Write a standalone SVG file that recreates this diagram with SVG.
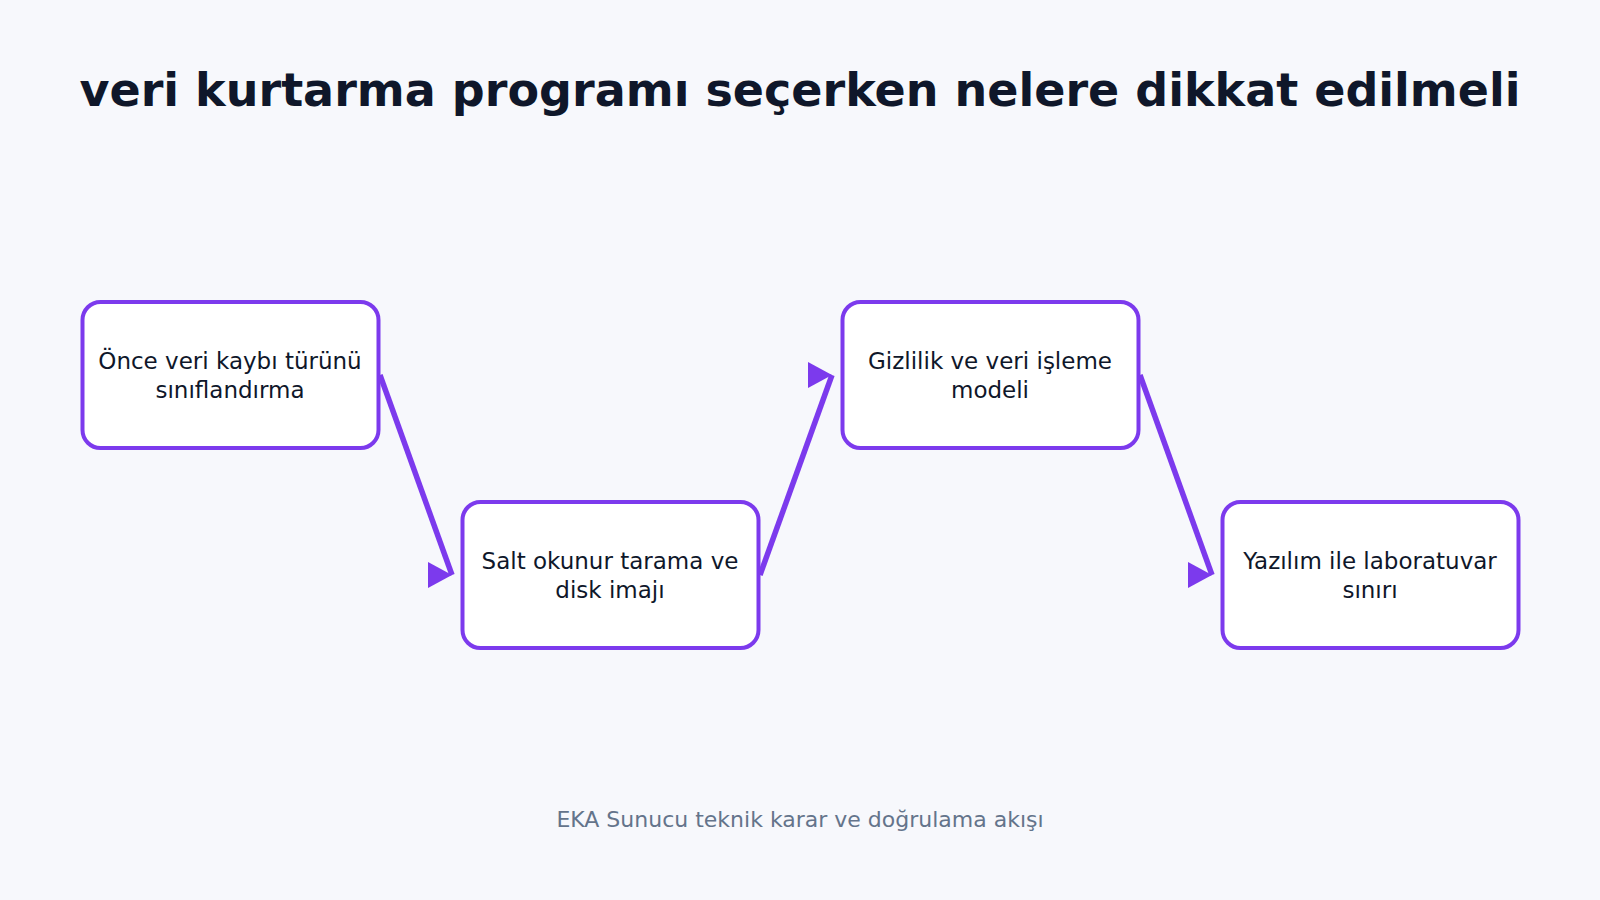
<svg xmlns="http://www.w3.org/2000/svg" width="1600" height="900" viewBox="0 0 1600 900">
  <defs>
    <style>
      .box { fill: #ffffff; stroke: #7c3aed; stroke-width: 4; }
      .lbl { font-family: "DejaVu Sans", "Noto Sans", sans-serif; font-size: 23px; fill: #0f172a; text-anchor: middle; }
      .edge { stroke: #7c3aed; stroke-width: 5.5; fill: none; marker-end: url(#arr); }
      .title { font-family: "DejaVu Sans", "Noto Sans", sans-serif; font-size: 46px; font-weight: bold; fill: #0f172a; text-anchor: middle; }
      .foot { font-family: "DejaVu Sans", "Noto Sans", sans-serif; font-size: 22px; fill: #64748b; text-anchor: middle; }
    </style>
    <marker id="arr" markerUnits="userSpaceOnUse" markerWidth="26" markerHeight="28" refX="24" refY="13" orient="0" viewBox="0 0 26 28">
      <path d="M0,0 L24,13 L0,26 Z" fill="#7c3aed"/>
    </marker>
  </defs>
  <rect width="1600" height="900" fill="#f7f8fc"/>
  <text class="title" x="800" y="106">veri kurtarma programı seçerken nelere dikkat edilmeli</text>

  <g id="connectors">
    <line class="edge" x1="380" y1="375" x2="452" y2="575"/>
    <line class="edge" x1="760" y1="575" x2="832" y2="375"/>
    <line class="edge" x1="1140" y1="375" x2="1212" y2="575"/>
  </g>

  <g id="node1">
    <rect class="box" x="82.5" y="302" width="296" height="146" rx="18"/>
    <text class="lbl" x="230" y="369">Önce veri kaybı türünü</text>
    <text class="lbl" x="230" y="398">sınıflandırma</text>
  </g>
  <g id="node2">
    <rect class="box" x="462.5" y="502" width="296" height="146" rx="18"/>
    <text class="lbl" x="610" y="569">Salt okunur tarama ve</text>
    <text class="lbl" x="610" y="598">disk imajı</text>
  </g>
  <g id="node3">
    <rect class="box" x="842.5" y="302" width="296" height="146" rx="18"/>
    <text class="lbl" x="990" y="369">Gizlilik ve veri işleme</text>
    <text class="lbl" x="990" y="398">modeli</text>
  </g>
  <g id="node4">
    <rect class="box" x="1222.5" y="502" width="296" height="146" rx="18"/>
    <text class="lbl" x="1370" y="569">Yazılım ile laboratuvar</text>
    <text class="lbl" x="1370" y="598">sınırı</text>
  </g>

  <text class="foot" x="800" y="827">EKA Sunucu teknik karar ve doğrulama akışı</text>
</svg>
